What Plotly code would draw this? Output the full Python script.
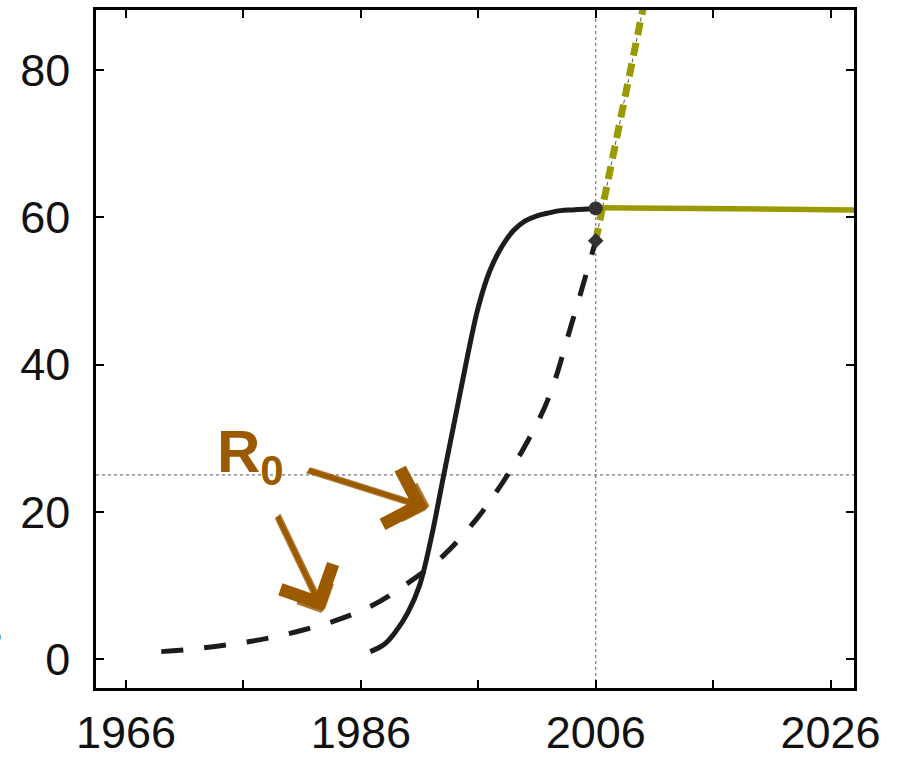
import plotly.graph_objects as go

# Observed cumulative curve (solid, logistic-like) up to 2006
obs_years = [1986.8, 1988.0, 1989.0, 1990.0, 1991.0, 1992.0, 1993.0, 1994.0,
             1995.0, 1996.0, 1997.0, 1998.0, 1999.0, 2000.0, 2001.0, 2002.0,
             2003.0, 2004.0, 2005.0, 2006.0]
obs_values = [1.0, 2.0, 3.8, 6.3, 10.0, 16.5, 24.5, 32.5,
              40.5, 47.8, 52.8, 56.0, 58.2, 59.5, 60.2, 60.6,
              60.9, 61.0, 61.1, 61.2]

# Exponential-growth curve (dashed) up to 2006
exp_years = [1969, 1972, 1975, 1978, 1981, 1984, 1987, 1990, 1993, 1996,
             1998, 2000, 2002, 2004, 2006]
exp_values = [1.0, 1.4, 2.0, 2.8, 3.9, 5.3, 7.3, 10.3, 14.0, 19.3,
              23.8, 29.0, 35.5, 45.8, 56.8]

# Projections after 2006
proj_up_years = [2006, 2010.5]
proj_up_values = [56.8, 92.0]
proj_flat_years = [2006, 2028]
proj_flat_values = [61.3, 61.0]

# End-point markers
end_circle = (2006, 61.2)
end_diamond = (2006, 56.8)

# Reference lines
ref_year = 2006
ref_level = 25

# Arrow annotations: (tail_x, tail_y, head_x, head_y)
arrows = [(1981.4, 25.7, 1991.7, 20.5),
          (1978.85, 19.6, 1982.8, 6.5)]

x_ticks = [1966, 1976, 1986, 1996, 2006, 2016, 2026]
x_ticktext = ["1966", "", "1986", "", "2006", "", "2026"]
y_ticks = [0, 20, 40, 60, 80]

OLIVE = "#9a9a00"
BROWN = "#9b5a00"
DARK = "#1c1c1c"

fig = go.Figure()

fig.add_trace(go.Scatter(x=exp_years, y=exp_values, mode="lines",
                         line=dict(color=DARK, width=5, dash="22px,21px", shape="spline"),
                         hoverinfo="skip"))
fig.add_trace(go.Scatter(x=obs_years, y=obs_values, mode="lines",
                         line=dict(color=DARK, width=5, shape="spline"),
                         hoverinfo="skip"))
fig.add_trace(go.Scatter(x=proj_up_years, y=proj_up_values, mode="lines",
                         line=dict(color="#555555", width=1, dash="4px,3px"),
                         hoverinfo="skip"))
fig.add_trace(go.Scatter(x=proj_up_years, y=proj_up_values, mode="lines",
                         line=dict(color=OLIVE, width=7, dash="13px,8px"),
                         hoverinfo="skip"))
fig.add_trace(go.Scatter(x=proj_flat_years, y=proj_flat_values, mode="lines",
                         line=dict(color=OLIVE, width=5.5),
                         hoverinfo="skip"))
fig.add_trace(go.Scatter(x=[end_circle[0]], y=[end_circle[1]], mode="markers",
                         marker=dict(symbol="circle", size=14, color="#333333"),
                         hoverinfo="skip"))
fig.add_trace(go.Scatter(x=[end_diamond[0]], y=[end_diamond[1]], mode="markers",
                         marker=dict(symbol="diamond", size=12, color="#333333"),
                         hoverinfo="skip"))

# Dotted reference lines
fig.add_shape(type="line", xref="x", yref="paper", x0=ref_year, x1=ref_year, y0=0, y1=1,
              line=dict(color="#777777", width=1.2, dash="dot"), layer="below")
fig.add_shape(type="line", xref="paper", yref="y", x0=0, x1=1, y0=ref_level, y1=ref_level,
              line=dict(color="#777777", width=1.2, dash="dot"), layer="below")

# Brush-like arrows: a bold stroke plus thinner offset strokes for texture
for tx, ty, hx, hy in arrows:
    for dx, dy, w, op in [(0, 0, 4.5, 1.0), (0.15, 0.25, 2.5, 0.8), (-0.15, -0.25, 2.5, 0.8)]:
        fig.add_annotation(x=hx + dx, y=hy + dy, ax=tx + dx, ay=ty + dy,
                           xref="x", yref="y", axref="x", ayref="y",
                           text="", showarrow=True, arrowhead=4, arrowsize=2.5,
                           arrowwidth=w, arrowcolor=BROWN, opacity=op)

fig.add_annotation(x=1973.6, y=27.6, xref="x", yref="y", xanchor="left", yanchor="middle",
                   text="<b>R<sub>0</sub></b>", showarrow=False,
                   font=dict(family="Liberation Sans", size=60, color=BROWN))

fig.add_annotation(x=-0.1215, y=4.2, xref="paper", yref="y", xanchor="right", yanchor="middle",
                   text="s", showarrow=False,
                   font=dict(family="Liberation Sans", size=44, color="#111111"))

axis_common = dict(showline=True, linecolor="black", linewidth=2.5, mirror="ticks",
                   ticks="inside", ticklen=8, tickwidth=2, tickcolor="black",
                   showgrid=False, zeroline=False, automargin=False,
                   tickfont=dict(family="Liberation Sans", size=45, color="#111111"))

fig.update_xaxes(range=[1963.44, 2028.0], tickvals=x_ticks, ticktext=x_ticktext,
                 ticklabelstandoff=3, **axis_common)
fig.update_yaxes(range=[-3.94, 88.15], tickvals=y_ticks,
                 ticklabelstandoff=14, **axis_common)

fig.update_layout(width=908, height=762, autosize=False,
                  margin=dict(l=96, r=54, t=10, b=74, autoexpand=False),
                  plot_bgcolor="white", paper_bgcolor="white",
                  showlegend=False)

fig.write_html("out.html")
